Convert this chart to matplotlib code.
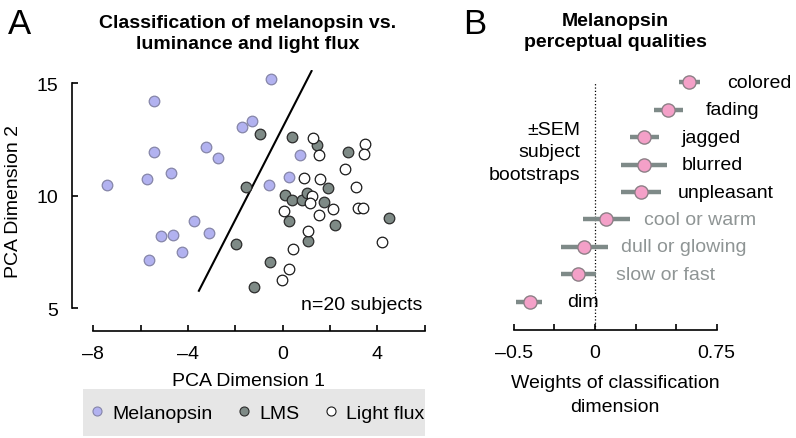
import matplotlib
matplotlib.use('Agg')
import matplotlib.pyplot as plt
from matplotlib.lines import Line2D
from matplotlib.patches import Rectangle

plt.rcParams['font.family'] = ['Liberation Sans', 'DejaVu Sans']

# ── Panel A data (PCA coordinates per subject) ───────────────────────────────
mel_x = [-5.43, -5.42, -7.42, -5.72, -4.71, -3.25, -2.72, -1.71, -1.31, -3.75,
         -5.14, -4.65, -3.11, -4.24, -5.64, -0.51, 0.73, 0.28, -0.57]
mel_y = [14.23, 11.96, 10.49, 10.73, 11.00, 12.15, 11.66, 13.07, 13.34, 8.87,
         8.22, 8.26, 8.35, 7.51, 7.12, 15.21, 11.80, 10.85, 10.49]

lms_x = [-0.95, -1.54, -1.96, -1.20, 0.41, 1.46, 2.77, 1.91, 0.10, 0.38,
         0.83, 1.01, 1.73, 0.25, 2.22, 4.51, 1.06, -0.55]
lms_y = [12.75, 10.39, 7.84, 5.92, 12.61, 12.27, 11.93, 10.33, 10.05, 9.80,
         9.82, 10.12, 9.70, 8.86, 8.71, 8.99, 8.00, 7.06]

flux_x = [1.29, 1.53, 3.49, 3.45, 2.65, 0.91, 1.58, 3.08, 1.24, 1.15,
          2.11, 3.17, 3.41, 0.04, 1.55, 1.07, 4.20, 0.45, 0.25, -0.02]
flux_y = [12.58, 11.80, 12.29, 11.86, 11.19, 10.80, 10.74, 10.40, 10.00, 9.66,
          9.41, 9.44, 9.45, 9.31, 9.15, 8.41, 7.93, 7.61, 6.72, 6.23]

# classification boundary (two end points)
bound_x = [-3.54, 1.22]
bound_y = [5.77, 15.55]

# ── Panel B data (weights ± SEM) ─────────────────────────────────────────────
qualities = ['colored', 'fading', 'jagged', 'blurred', 'unpleasant',
             'cool or warm', 'dull or glowing', 'slow or fast', 'dim']
weights = [0.582, 0.451, 0.305, 0.301, 0.281, 0.070, -0.068, -0.104, -0.401]
err_lo = [0.516, 0.361, 0.217, 0.158, 0.162, -0.071, -0.211, -0.211, -0.483]
err_hi = [0.650, 0.541, 0.393, 0.443, 0.404, 0.217, 0.080, 0.008, -0.323]
significant = [True, True, True, True, True, False, False, False, True]

MEL_C, MEL_E = '#b2b2f0', '#8585a8'
LMS_C, LMS_E = '#7e8a86', '#2b2b2b'
FLUX_C, FLUX_E = 'white', '#1a1a1a'
ERR_C = '#7e8a88'
PINK, PINK_E = '#f4a0c8', '#8c7f86'
GREY_TXT = '#8f9595'

W, H = 796, 439
fig = plt.figure(figsize=(W / 100, H / 100), dpi=100)

# legend background band (drawn first, under everything)
fig.patches.append(Rectangle((83 / W, 1 - 437 / H), 342 / W, 47 / H,
                             transform=fig.transFigure, facecolor='#e6e6e6',
                             edgecolor='none', zorder=-5))

# --- Panel A ---
axA = fig.add_axes([72 / W, 1 - 332 / H, 353.9 / W, 261.1 / H])
axA.patch.set_alpha(0)
axA.scatter(mel_x, mel_y, s=58, c=MEL_C, edgecolors=MEL_E, linewidths=0.9, zorder=3)
axA.scatter(lms_x, lms_y, s=58, c=LMS_C, edgecolors=LMS_E, linewidths=0.9, zorder=3)
axA.scatter(flux_x, flux_y, s=58, c=FLUX_C, edgecolors=FLUX_E, linewidths=0.9, zorder=3)
axA.plot(bound_x, bound_y, color='black', lw=1.5, zorder=2)

axA.set_xlim(-8.9, 6.05)
axA.set_ylim(3.98, 15.6)
for s in ['top', 'right']:
    axA.spines[s].set_visible(False)
axA.spines['bottom'].set_bounds(-8, 6)
axA.spines['left'].set_bounds(5, 15)
axA.set_xticks(range(-8, 7, 2))
axA.set_xticklabels(['–8', '', '–4', '', '0', '', '4', ''])
axA.set_yticks([5, 10, 15])
axA.tick_params(direction='in', length=4, width=1.2, labelsize=14, pad=10)
axA.tick_params(axis='y', pad=10)
for s in ['bottom', 'left']:
    axA.spines[s].set_linewidth(1.2)
axA.set_xlabel('PCA Dimension 1', fontsize=14, labelpad=7)
axA.set_ylabel('PCA Dimension 2', fontsize=14, labelpad=10)
axA.text(0.99, 0.10, 'n=20 subjects', transform=axA.transAxes,
         ha='right', va='center', fontsize=14)

# --- Panel B ---
axB = fig.add_axes([513.7 / W, 1 - 330.7 / H, 203 / W, 255.6 / H])
axB.patch.set_alpha(0)
ypos = list(range(len(qualities) - 1, -1, -1))
axB.axvline(0, ymin=0, ymax=(8 + 1.02) / 9.32, color='black', ls=':', lw=0.9, zorder=1)
for y, w, lo, hi, q, sig in zip(ypos, weights, err_lo, err_hi, qualities, significant):
    axB.plot([lo, hi], [y, y], color=ERR_C, lw=3.2, solid_capstyle='butt', zorder=2)
    axB.plot(w, y, 'o', ms=9.5, mfc=PINK, mec=PINK_E, mew=1.0, zorder=3)
    axB.annotate(q, (w, y), xytext=(27, 0), textcoords='offset points',
                 ha='left', va='center', fontsize=14, annotation_clip=False,
                 color='black' if sig else GREY_TXT)
axB.set_xlim(-0.5, 0.75)
axB.set_ylim(-1.02, 8.3)
for s in ['top', 'right', 'left']:
    axB.spines[s].set_visible(False)
axB.spines['bottom'].set_linewidth(1.2)
axB.set_yticks([])
axB.set_xticks([-0.5, -0.25, 0, 0.25, 0.5, 0.75])
axB.set_xticklabels(['–0.5', '', '0', '', '', '0.75'])
axB.tick_params(direction='in', length=4, width=1.2, labelsize=14, pad=10)
axB.set_xlabel('Weights of classification\ndimension', fontsize=14, labelpad=10,
               linespacing=1.5)
axB.text(-0.09, 5.46, '±SEM\nsubject\nbootstraps', ha='right', va='center',
         fontsize=14, linespacing=1.45)

# titles and panel letters
fig.text(248 / W, 1 - 34 / H, 'Classification of melanopsin vs.\nluminance and light flux',
         ha='center', va='center', fontsize=14, fontweight='bold', linespacing=1.3)
fig.text(615 / W, 1 - 32 / H, 'Melanopsin\nperceptual qualities',
         ha='center', va='center', fontsize=14, fontweight='bold', linespacing=1.35)
fig.text(8 / W, 1 - 24 / H, 'A', fontsize=25, ha='left', va='center')
fig.text(463 / W, 1 - 24 / H, 'B', fontsize=25, ha='left', va='center')

handles = [
    Line2D([], [], ls='none', marker='o', ms=6.5, mfc=MEL_C, mec=MEL_E, mew=0.8),
    Line2D([], [], ls='none', marker='o', ms=6.5, mfc=LMS_C, mec=LMS_E, mew=0.8),
    Line2D([], [], ls='none', marker='o', ms=6.5, mfc=FLUX_C, mec=FLUX_E, mew=0.8),
]
fig.legend(handles, ['Melanopsin', 'LMS', 'Light flux'], ncol=3,
           loc='center', bbox_to_anchor=(258 / W, 1 - 414 / H),
           fontsize=14, frameon=False, handlelength=0.6,
           handletextpad=0.5, columnspacing=1.3, borderpad=0.2)

plt.savefig('out.png', dpi=100)
